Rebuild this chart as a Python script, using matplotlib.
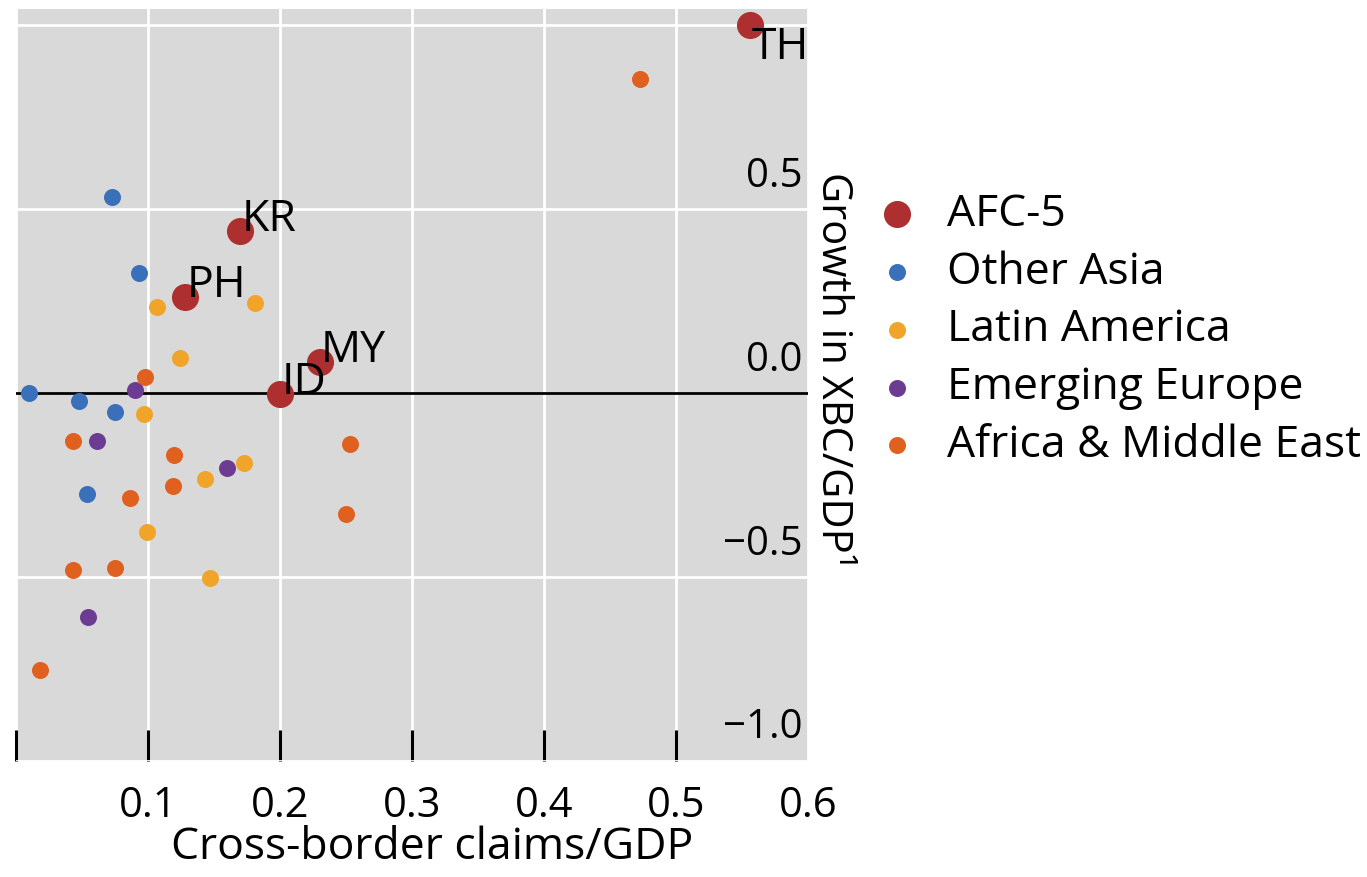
import matplotlib
matplotlib.use("Agg")
import matplotlib.pyplot as plt

plt.rcParams['font.family'] = ['Open Sans', 'DejaVu Sans']

# --- data ---
afc_names = ["TH", "KR", "PH", "MY", "ID"]
afc_x = [0.556, 0.170, 0.128, 0.230, 0.200]
afc_y = [1.000, 0.439, 0.260, 0.084, -0.003]

asia_x = [0.073, 0.093, 0.010, 0.048, 0.075, 0.054]
asia_y = [0.533, 0.326, 0.000, -0.023, -0.052, -0.275]

latam_x = [0.107, 0.181, 0.124, 0.097, 0.173, 0.143, 0.0995, 0.147]
latam_y = [0.235, 0.244, 0.095, -0.057, -0.190, -0.235, -0.379, -0.504]

eur_x = [0.0905, 0.061, 0.160, 0.0546]
eur_y = [0.009, -0.131, -0.204, -0.610]

afr_x = [0.473, 0.098, 0.043, 0.253, 0.120, 0.119, 0.086, 0.250, 0.043, 0.075, 0.018]
afr_y = [0.852, 0.043, -0.131, -0.138, -0.168, -0.252, -0.284, -0.329, -0.482, -0.476, -0.752]

xticks = [0.0, 0.1, 0.2, 0.3, 0.4, 0.5, 0.6]
xticklabels = ["", "0.1", "0.2", "0.3", "0.4", "0.5", "0.6"]
yticks = [-1.0, -0.5, 0.0, 0.5, 1.0]
ytick_shown = [-1.0, -0.5, 0.0, 0.5]

fig = plt.figure(figsize=(13.67, 8.77), dpi=100)
ax = fig.add_axes([16/1367, 1 - 761/877, (808 - 16)/1367, (761 - 9)/877])
ax.set_facecolor("#d9d9d9")
for s in ax.spines.values():
    s.set_visible(False)

ax.set_xlim(0, 0.6)
ax.set_ylim(-1.0, 1.0435)
ax.set_xticks(xticks)
ax.set_xticklabels(xticklabels)
ax.set_yticks(yticks)
ax.tick_params(axis='y', left=False, labelleft=False)
ax.tick_params(axis='x', direction='in', length=22, width=2.2, color='black',
               labelsize=30, pad=17)
ax.xaxis.get_major_ticks()[-1].tick1line.set_visible(False)
ax.grid(True, color='white', linewidth=2)
ax.set_axisbelow(True)
ax.axhline(0, color='black', linewidth=2, zorder=1.5)

# y tick labels sit inside the plot, just above each gridline
for v in ytick_shown:
    ax.annotate(f"{v:.1f}".replace("-", "\u2212"), xy=(1, v), xycoords=('axes fraction', 'data'),
                xytext=(-4, 9), textcoords='offset points', ha='right', va='bottom', fontsize=29)

s_small, s_big = 150, 380
ax.scatter(afc_x, afc_y, s=s_big, color="#ad2f2f", label="AFC-5", zorder=3, linewidths=0)
ax.scatter(asia_x, asia_y, s=s_small, color="#3a70b9", label="Other Asia", zorder=3, linewidths=0)
ax.scatter(latam_x, latam_y, s=s_small, color="#f0a52a", label="Latin America", zorder=3, linewidths=0)
ax.scatter(eur_x, eur_y, s=s_small, color="#6b3c92", label="Emerging Europe", zorder=3, linewidths=0)
ax.scatter(afr_x, afr_y, s=s_small, color="#e0601f", label="Africa & Middle East", zorder=3, linewidths=0)

for n, x, y in zip(afc_names, afc_x, afc_y):
    va = 'top' if n == "TH" else 'baseline'
    ax.annotate(n, xy=(x, y), xytext=(1, 0), textcoords='offset points',
                ha='left', va=va, fontsize=32, zorder=4)

ax.set_xlabel("Cross-border claims/GDP", fontsize=32)
ax.xaxis.set_label_coords(0.525, -0.086)
ax.set_ylabel("Growth in XBC/GDP\u00b9", fontsize=30, rotation=270, va='center', ha='center')
ax.yaxis.set_label_coords((833 - 16)/(808 - 16), (761 - 370)/752)

fig.legend(loc='upper left', bbox_to_anchor=(848/1367, 1 - 170/877), frameon=False,
           fontsize=32, scatterpoints=1, labelspacing=0.3, handletextpad=0.52,
           borderpad=0, handlelength=1.2)

fig.savefig("out.png", dpi=100)
